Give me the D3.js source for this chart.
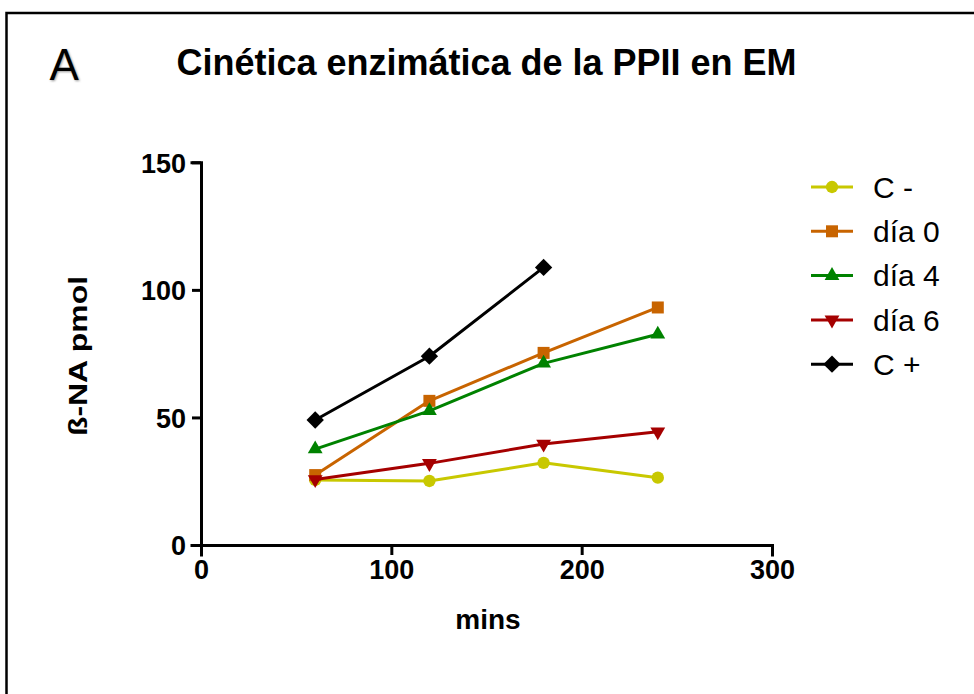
<!DOCTYPE html>
<html>
<head>
<meta charset="utf-8">
<script src="https://cdn.jsdelivr.net/npm/d3@7"></script>
<style>
  html, body { margin: 0; padding: 0; background: #fff; }
  svg { display: block; }
  text { font-family: "Liberation Sans", Arial, sans-serif; fill: #000; }
</style>
</head>
<body>
<svg id="chart" width="974" height="694"></svg>
<script>
// Time points (minutes) and measured ß-NA (pmol) per condition
const minutes = [60, 120, 180, 240];
const cNeg = [25.5, 25.1, 32.2, 26.4];
const dia0 = [27.4, 56.5, 75.3, 93.1];
const dia4 = [37.6, 52.6, 71.2, 82.6];
const dia6 = [25.7, 32.0, 39.6, 44.4];
const cPos = [49.0, 74.0, 108.8];

const seriesNames = ["C -", "día 0", "día 4", "día 6", "C +"];
const xTicks = [0, 100, 200, 300];
const yTicks = [0, 50, 100, 150];

const titleText = "Cinética enzimática de la PPII en EM";
const panelLetter = "A";
const xLabel = "mins";
const yLabel = "ß-NA pmol";

const series = [
  { name: seriesNames[0], values: cNeg, color: "#c8c800", shape: "circle" },
  { name: seriesNames[1], values: dia0, color: "#c86400", shape: "square" },
  { name: seriesNames[2], values: dia4, color: "#008200", shape: "triUp" },
  { name: seriesNames[3], values: dia6, color: "#a50000", shape: "triDown" },
  { name: seriesNames[4], values: cPos, color: "#000000", shape: "diamond" }
];

const svg = d3.select("#chart");

// Panel frame (left and top edges)
svg.append("path")
  .attr("d", "M6.5,694V13H974")
  .attr("fill", "none")
  .attr("stroke", "#000")
  .attr("stroke-width", 2.5);

// Panel letter with soft shadow
const defs = svg.append("defs");
const f = defs.append("filter").attr("id", "soft").attr("x", "-20%").attr("y", "-20%").attr("width", "140%").attr("height", "140%");
f.append("feGaussianBlur").attr("stdDeviation", 0.9);

svg.append("text")
  .attr("x", 50.5).attr("y", 80.5)
  .attr("font-size", 44)
  .attr("fill", "#888").style("fill", "#999")
  .attr("filter", "url(#soft)")
  .text(panelLetter);
svg.append("text")
  .attr("x", 49.5).attr("y", 79.5)
  .attr("font-size", 44)
  .text(panelLetter);

// Title
svg.append("text")
  .attr("x", 486.5).attr("y", 75)
  .attr("text-anchor", "middle")
  .attr("font-size", 36)
  .attr("font-weight", "bold")
  .text(titleText);

// Scales
const x = d3.scaleLinear().domain([0, 300]).range([201, 772]);
const y = d3.scaleLinear().domain([0, 150]).range([545, 162.3]);

// Axes
const xAxis = d3.axisBottom(x).tickValues(xTicks).tickSize(10).tickSizeOuter(10).tickPadding(5).tickFormat(d3.format("d"));
const yAxis = d3.axisLeft(y).tickValues(yTicks).tickSize(9).tickSizeOuter(9).tickPadding(6).tickFormat(d3.format("d"));

const gx = svg.append("g").attr("transform", `translate(0,${y(0)})`).call(xAxis);
const gy = svg.append("g").attr("transform", `translate(${x(0)},0)`).call(yAxis);

[gx, gy].forEach(g => {
  g.selectAll("path.domain").attr("stroke", "#000").attr("stroke-width", 3).attr("stroke-linecap", "square");
  g.selectAll(".tick line").attr("stroke", "#000").attr("stroke-width", 3);
  g.selectAll(".tick text")
    .attr("font-family", "Liberation Sans, Arial, sans-serif")
    .attr("font-size", 27)
    .attr("font-weight", "bold")
    .attr("fill", "#000");
});
gy.selectAll(".tick text").attr("dy", "0.36em");
gx.selectAll(".tick text").attr("dy", "0.72em");

// Axis titles
svg.append("text")
  .attr("x", 488).attr("y", 629)
  .attr("text-anchor", "middle")
  .attr("font-size", 28)
  .attr("font-weight", "bold")
  .text(xLabel);

svg.append("text")
  .attr("transform", "translate(87,356) rotate(-90)")
  .attr("text-anchor", "middle")
  .attr("font-size", 26)
  .attr("font-weight", "bold")
  .attr("textLength", 160)
  .attr("lengthAdjust", "spacingAndGlyphs")
  .text(yLabel);

// Marker drawing
function marker(g, shape, color) {
  let sym, rot = 0;
  if (shape === "circle") sym = d3.symbol(d3.symbolCircle, 120);
  else if (shape === "square") sym = d3.symbol(d3.symbolSquare, 144);
  else if (shape === "triUp") sym = d3.symbol(d3.symbolTriangle, 95);
  else if (shape === "triDown") { sym = d3.symbol(d3.symbolTriangle, 95); rot = 180; }
  else { sym = d3.symbol(d3.symbolSquare, 150); rot = 45; }
  g.append("path")
    .attr("d", sym())
    .attr("transform", (g.attr("data-rot") || "") + ` rotate(${rot})`)
    .attr("fill", color);
}

const line = d3.line().x(d => x(d[0])).y(d => y(d[1]));

series.forEach(s => {
  const pts = s.values.map((v, i) => [minutes[i], v]);
  svg.append("path")
    .datum(pts)
    .attr("d", line)
    .attr("fill", "none")
    .attr("stroke", s.color)
    .attr("stroke-width", 3)
    .attr("stroke-linejoin", "round");
  pts.forEach(p => {
    const g = svg.append("g").attr("transform", `translate(${x(p[0])},${y(p[1])})`);
    marker(g, s.shape, s.color);
  });
});

// Legend
const legendX0 = 811, legendX1 = 853, legendY0 = 187, legendStep = 44.3;
series.forEach((s, i) => {
  const yy = legendY0 + i * legendStep;
  svg.append("line")
    .attr("x1", legendX0).attr("x2", legendX1)
    .attr("y1", yy).attr("y2", yy)
    .attr("stroke", s.color)
    .attr("stroke-width", 3);
  const g = svg.append("g").attr("transform", `translate(${(legendX0 + legendX1) / 2},${yy})`);
  marker(g, s.shape, s.color);
  svg.append("text")
    .attr("x", 873).attr("y", yy)
    .attr("dy", "0.36em")
    .attr("font-size", 30)
    .text(s.name);
});
</script>
</body>
</html>
